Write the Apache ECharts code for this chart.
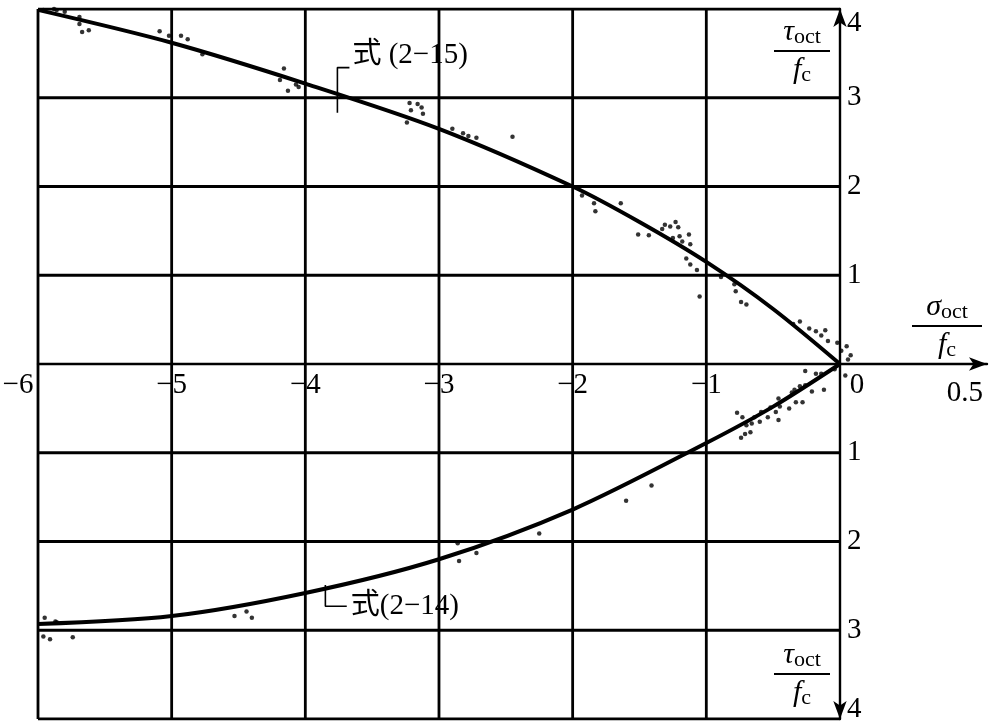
<!DOCTYPE html>
<html>
<head>
<meta charset="utf-8">
<script src="https://cdn.jsdelivr.net/npm/echarts@6/dist/echarts.min.js"></script>
<style>
html,body{margin:0;padding:0;background:#fff;}
#chart{width:996px;height:723px;}
</style>
</head>
<body>
<div id="chart"></div>
<script>
// ---- data ----
const xGrid = [-6, -5, -4, -3, -2, -1];
const yGrid = [-4, -3, -2, -1, 1, 2, 3, 4];
const xLabelValues = [-6, -5, -4, -3, -2, -1, 0];
const xEndLabel = '0.5';

// 式 (2-15) curve (upper)
const curve15 = [[-6,3.99],[-5,3.62],[-4,3.16],[-3,2.65],[-2,2.0],[-1.5,1.6],[-1,1.15],[-0.5,0.62],[0,0]];
// 式 (2-14) curve (lower)
const curve14 = [[-6,-2.93],[-5,-2.84],[-4,-2.58],[-3,-2.2],[-2,-1.64],[-1,-0.89],[-0.5,-0.48],[0,0]];

const pts15 = [
[-5.96,3.99],[-5.88,4.0],[-5.86,3.99],[-5.8,3.97],[-5.69,3.91],[-5.69,3.83],[-5.67,3.74],[-5.62,3.76],
[-5.09,3.75],[-5.02,3.7],[-4.93,3.7],[-4.88,3.66],[-4.77,3.49],
[-4.16,3.33],[-4.19,3.2],[-4.13,3.08],[-4.07,3.15],[-4.05,3.12],
[-3.22,2.94],[-3.16,2.93],[-3.21,2.86],[-3.13,2.89],[-3.12,2.82],[-3.24,2.72],
[-2.9,2.65],[-2.82,2.6],[-2.78,2.57],[-2.72,2.55],[-2.45,2.56],
[-1.93,1.9],[-1.84,1.81],[-1.83,1.72],[-1.64,1.81],[-1.51,1.46],[-1.43,1.45],
[-1.33,1.52],[-1.31,1.57],[-1.27,1.55],[-1.23,1.6],[-1.21,1.54],[-1.25,1.42],[-1.2,1.44],
[-1.18,1.38],[-1.13,1.46],[-1.12,1.35],[-1.15,1.19],[-1.12,1.12],[-1.07,1.06],[-1.05,0.76],
[-0.89,0.98],[-0.79,0.9],[-0.78,0.82],[-0.74,0.7],[-0.7,0.67],
[-0.35,0.45],[-0.3,0.48],[-0.23,0.4],[-0.18,0.37],[-0.14,0.32],[-0.11,0.38],[-0.09,0.26],
[-0.02,0.24],[0.01,0.15],[0.05,0.2],[0.08,0.1],[0.06,0.05]
];
const pts14 = [
[-5.95,-2.86],[-5.87,-2.9],[-5.86,-2.91],[-5.96,-3.07],[-5.91,-3.1],[-5.74,-3.08],
[-4.53,-2.84],[-4.44,-2.79],[-4.4,-2.86],
[-2.86,-2.02],[-2.85,-2.22],[-2.72,-2.13],[-2.25,-1.91],[-1.6,-1.54],[-1.41,-1.37],
[-0.74,-0.83],[-0.71,-0.79],[-0.67,-0.77],[-0.77,-0.55],[-0.73,-0.6],[-0.7,-0.69],[-0.66,-0.67],
[-0.64,-0.6],[-0.6,-0.65],[-0.59,-0.54],[-0.54,-0.6],[-0.52,-0.49],[-0.48,-0.54],[-0.46,-0.63],
[-0.45,-0.48],[-0.46,-0.39],[-0.38,-0.5],[-0.33,-0.43],[-0.28,-0.43],[-0.36,-0.32],[-0.34,-0.29],
[-0.3,-0.25],[-0.26,-0.24],[-0.21,-0.31],[-0.12,-0.29],[-0.14,-0.11],[-0.18,-0.11],[-0.26,-0.08],
[-0.04,-0.06],[0.04,-0.13]
];

const leader15 = [[-3.67,3.34],[-3.76,3.34],[-3.76,2.83]];
const leader14 = [[-3.85,-2.49],[-3.85,-2.73],[-3.69,-2.73]];
const label15 = '式 (2−15)';
const label14 = '式(2−14)';

// ---- chart ----
const FONT = '"Liberation Serif", "Noto Sans CJK SC", serif';
const FS = 29;
const GRID = { left: 38, right: 9, top: 9, bottom: 4 };
const X_MIN = -6, X_MAX = 1.1, Y_MIN = -4, Y_MAX = 4;
const W = 996, H = 723;
const plotW = W - GRID.left - GRID.right, plotH = H - GRID.top - GRID.bottom;
// offsets that move the axes onto the zero lines
const xAxisOffset = -plotH * (0 - Y_MIN) / (Y_MAX - Y_MIN);
const yAxisOffset = -plotW * (X_MAX - 0) / (X_MAX - X_MIN);

const chart = echarts.init(document.getElementById('chart'));

const gridSeries = [];
yGrid.forEach(y => gridSeries.push({
  type: 'line', data: [[-6, y], [0, y]], symbol: 'none', silent: true, z: 1,
  lineStyle: { color: '#000', width: 2.8 }
}));
xGrid.forEach(x => gridSeries.push({
  type: 'line', data: [[x, -4], [x, 4]], symbol: 'none', silent: true, z: 1,
  lineStyle: { color: '#000', width: 2.8 }
}));

function minus(v) { return String(v).replace('-', '−'); }

chart.setOption({
  animation: false,
  backgroundColor: '#fff',
  grid: Object.assign({ containLabel: false, outerBoundsMode: 'none' }, GRID),
  xAxis: {
    type: 'value', min: X_MIN, max: X_MAX, interval: 1, position: 'bottom', offset: xAxisOffset,
    splitLine: { show: false }, axisTick: { show: false },
    axisLine: { onZero: false, lineStyle: { color: '#000', width: 2.4 }, symbol: ['none', 'arrow'], symbolSize: [10, 18] },
    name: xEndLabel, nameLocation: 'end', nameGap: -4,
    nameTextStyle: { color: '#000', fontFamily: FONT, fontSize: FS, align: 'right', verticalAlign: 'top', padding: [15, 0, 0, 0] },
    axisLabel: {
      color: '#000', fontFamily: FONT, fontSize: FS, margin: 7,
      formatter: v => {
        if (xLabelValues.indexOf(v) < 0) return '';
        if (v === -6) return '{l|' + minus(v) + '}';
        if (v === 0) return '{r|0}';
        return minus(v);
      },
      rich: {
        l: { fontFamily: FONT, fontSize: FS, color: '#000', padding: [0, 40, 0, 0] },
        r: { fontFamily: FONT, fontSize: FS, color: '#000', padding: [0, 0, 0, 34] }
      }
    }
  },
  yAxis: {
    type: 'value', min: Y_MIN, max: Y_MAX, interval: 1, position: 'right', offset: yAxisOffset,
    splitLine: { show: false }, axisTick: { show: false },
    axisLine: { onZero: false, lineStyle: { color: '#000', width: 2.4 }, symbol: ['arrow', 'arrow'], symbolSize: [10, 18] },
    axisLabel: {
      color: '#000', fontFamily: FONT, fontSize: FS, margin: 7,
      formatter: v => {
        if (v === 0) return '';
        if (v === 4) return '{t|4}';
        if (v === -4) return '{b|4}';
        return String(Math.abs(v));
      },
      rich: {
        t: { fontFamily: FONT, fontSize: FS, color: '#000', padding: [28, 0, 0, 0] },
        b: { fontFamily: FONT, fontSize: FS, color: '#000', padding: [0, 0, 20, 0] }
      }
    }
  },
  series: gridSeries.concat([
    { type: 'line', data: curve15, smooth: 0.3, symbol: 'none', z: 5, lineStyle: { color: '#000', width: 4 } },
    { type: 'line', data: curve14, smooth: 0.3, symbol: 'none', z: 5, lineStyle: { color: '#000', width: 4 } },
    { type: 'scatter', data: pts15, symbol: 'circle', symbolSize: 4.5, z: 6, itemStyle: { color: '#000' } },
    { type: 'scatter', data: pts14, symbol: 'circle', symbolSize: 4.5, z: 6, itemStyle: { color: '#000' } },
    { type: 'line', data: leader15, symbol: 'none', z: 6, lineStyle: { color: '#000', width: 1.6 } },
    { type: 'line', data: leader14, symbol: 'none', z: 6, lineStyle: { color: '#000', width: 1.6 } }
  ])
});

const p15 = chart.convertToPixel({ gridIndex: 0 }, leader15[0]);
const p14 = chart.convertToPixel({ gridIndex: 0 }, leader14[2]);

function fraction(cx, barY, num, sub, den, dsub, w) {
  return {
    type: 'group',
    children: [
      { type: 'text', x: cx, y: barY - 3, style: {
          text: '{a|' + num + '}{s|' + sub + '}', align: 'center', verticalAlign: 'bottom',
          rich: { a: { fontFamily: FONT, fontSize: 30, fontStyle: 'italic', fill: '#000' },
                  s: { fontFamily: FONT, fontSize: 22, fill: '#000', padding: [10, 0, 0, 0] } } } },
      { type: 'line', shape: { x1: cx - w / 2, y1: barY, x2: cx + w / 2, y2: barY }, style: { stroke: '#000', lineWidth: 2 } },
      { type: 'text', x: cx, y: barY + 3, style: {
          text: '{a|' + den + '}{s|' + dsub + '}', align: 'center', verticalAlign: 'top',
          rich: { a: { fontFamily: FONT, fontSize: 30, fontStyle: 'italic', fill: '#000' },
                  s: { fontFamily: FONT, fontSize: 22, fill: '#000', padding: [10, 0, 0, 0] } } } }
    ]
  };
}

chart.setOption({
  graphic: [
    fraction(802, 51, 'τ', 'oct', 'f', 'c', 56),
    fraction(802, 674, 'τ', 'oct', 'f', 'c', 56),
    fraction(947, 326, 'σ', 'oct', 'f', 'c', 70),
    { type: 'text', x: p15[0] + 3, y: p15[1] + 2, style: { text: label15, font: FS + 'px ' + FONT, fill: '#000', align: 'left', verticalAlign: 'bottom' } },
    { type: 'text', x: p14[0] + 4, y: p14[1], style: { text: label14, font: FS + 'px ' + FONT, fill: '#000', align: 'left', verticalAlign: 'middle' } }
  ]
});
</script>
</body>
</html>
